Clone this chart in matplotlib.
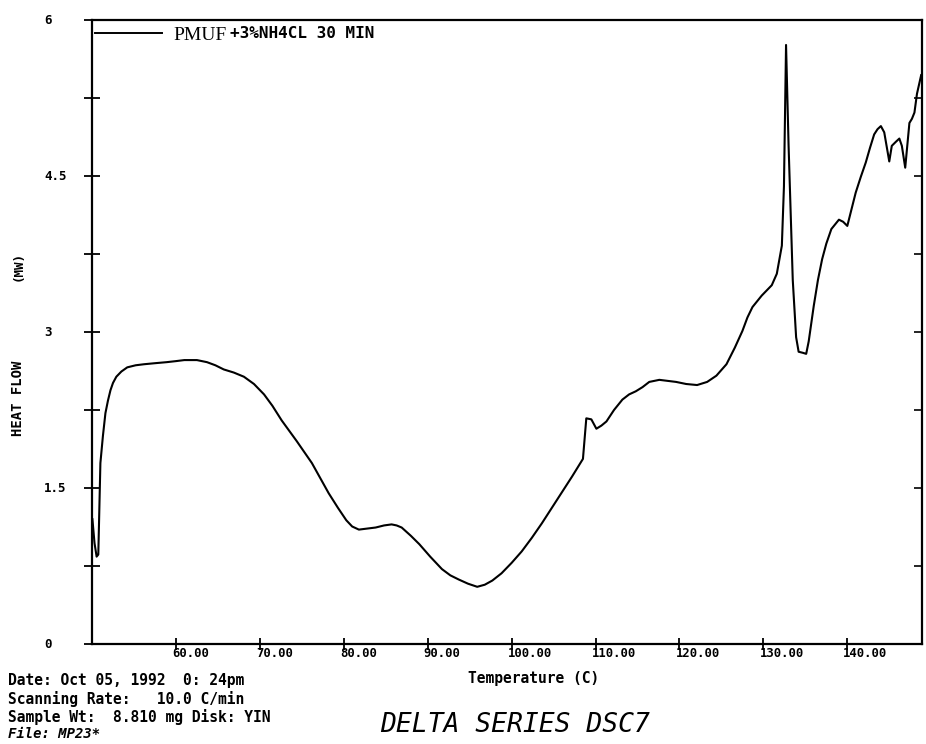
import matplotlib
matplotlib.use("Agg")
import matplotlib.pyplot as plt
from matplotlib.lines import Line2D
from matplotlib.transforms import offset_copy

# DSC trace (temperature in C, heat flow in mW)
temperature = [50.05, 50.3, 50.55, 50.75, 51.0, 51.3, 51.6, 51.9, 52.2, 52.5,
               52.9, 53.5, 54.2, 55.2, 56.2, 57.5, 58.9, 60.0, 61.0, 62.5,
               63.7, 64.7, 65.7, 66.9, 68.1, 69.3, 70.5, 71.5, 72.6, 74.4,
               76.2, 78.2, 79.3, 80.3, 81.0, 81.8, 82.8, 83.8, 84.8, 85.7,
               86.3, 86.9, 88.0, 89.0, 90.3, 91.7, 92.7, 93.7, 94.8, 95.9,
               96.8, 97.7, 98.8, 100.0, 101.2, 102.4, 103.6, 104.8, 106.0, 107.2,
               108.5, 108.9, 109.5, 110.1, 110.7, 111.3, 112.2, 113.2, 114.0, 114.8,
               115.6, 116.4, 117.6, 118.6, 119.6, 120.8, 122.1, 123.3, 124.4, 125.6,
               126.6, 127.5, 128.1, 128.7, 129.8, 131.0, 131.6, 132.2, 132.45, 132.7,
               133.0, 133.5, 133.9, 134.2, 134.7, 135.1, 135.4, 136.0, 136.5, 137.0,
               137.5, 138.1, 139.0, 139.5, 140.0, 140.5, 141.0, 141.6, 142.2, 142.7,
               143.2, 143.6, 144.0, 144.4, 144.7, 145.0, 145.3, 145.8, 146.2, 146.5,
               146.9, 147.4, 147.7, 148.0, 148.3, 148.8]
heat_flow = [1.2, 0.97, 0.84, 0.86, 1.74, 2.0, 2.22, 2.34, 2.44, 2.51,
             2.57, 2.62, 2.66, 2.68, 2.69, 2.70, 2.71, 2.72, 2.73, 2.73,
             2.71, 2.68, 2.64, 2.61, 2.57, 2.50, 2.40, 2.29, 2.15, 1.95,
             1.74, 1.45, 1.31, 1.19, 1.13, 1.10, 1.11, 1.12, 1.14, 1.15,
             1.14, 1.12, 1.04, 0.96, 0.84, 0.72, 0.66, 0.62, 0.58, 0.55,
             0.57, 0.61, 0.68, 0.78, 0.89, 1.02, 1.16, 1.31, 1.46, 1.61,
             1.78, 2.17, 2.16, 2.07, 2.10, 2.14, 2.25, 2.35, 2.40, 2.43,
             2.47, 2.52, 2.54, 2.53, 2.52, 2.50, 2.49, 2.52, 2.58, 2.69,
             2.85, 3.01, 3.14, 3.24, 3.35, 3.45, 3.56, 3.83, 4.4, 5.76,
             4.8, 3.5, 2.95, 2.81, 2.80, 2.79, 2.91, 3.25, 3.50, 3.70,
             3.85, 3.99, 4.08, 4.06, 4.02, 4.18, 4.34, 4.49, 4.63, 4.77,
             4.90, 4.95, 4.98, 4.92, 4.78, 4.64, 4.79, 4.83, 4.86, 4.79,
             4.58, 5.01, 5.05, 5.11, 5.29, 5.47]

x_ticks = [60, 70, 80, 90, 100, 110, 120, 130, 140]
x_tick_labels = ["60.00", "70.00", "80.00", "90.00", "100.00", "110.00",
                 "120.00", "130.00", "140.00"]
y_ticks = [0, 1.5, 3, 4.5, 6]
y_tick_labels = ["0", "1.5", "3", "4.5", "6"]
y_minor_ticks = [0.75, 2.25, 3.75, 5.25]

mono = "DejaVu Sans Mono"

fig = plt.figure(figsize=(9.26, 7.44), dpi=100)
fig.patch.set_facecolor("white")
ax = fig.add_axes([92/926, 100/744, 830/926, 624/744])

ax.plot(temperature, heat_flow, color="black", lw=1.5)
ax.set_xlim(50, 148.9)
ax.set_ylim(0, 6)
for s in ax.spines.values():
    s.set_linewidth(1.6)

# ticks: crossing ticks on the left and bottom, labels drawn by hand
ax.set_xticks(x_ticks)
ax.set_xticklabels([])
ax.tick_params(axis="x", direction="inout", length=9, width=1.3)
ax.set_yticks(y_ticks)
ax.set_yticks(y_minor_ticks, minor=True)
ax.set_yticklabels([])
ax.tick_params(axis="y", which="both", direction="inout", length=12, width=1.3)

# inward ticks on the right edge
twin = ax.twinx()
twin.set_ylim(0, 6)
twin.set_yticks(sorted(y_ticks[1:-1] + y_minor_ticks))
twin.set_yticklabels([])
twin.tick_params(axis="y", direction="in", length=6, width=1.2)
for s in twin.spines.values():
    s.set_visible(False)

xt = offset_copy(ax.get_xaxis_transform(), fig=fig, x=-4, y=-3, units="dots")
for t, lab in zip(x_ticks, x_tick_labels):
    ax.text(t, 0, lab, transform=xt, ha="left", va="top",
            family=mono, weight="bold", size=8.8)

yt = offset_copy(ax.get_yaxis_transform(), fig=fig, x=-48, units="dots")
for v, lab in zip(y_ticks, y_tick_labels):
    ax.text(0, v, lab, transform=yt, ha="left", va="center",
            family=mono, weight="bold", size=9)

def fx(px):
    return px / 926

def fy(py):
    return 1 - py / 744

# axis titles
fig.text(fx(18), fy(398), "HEAT FLOW", rotation=90, ha="center", va="center",
         family=mono, weight="bold", size=10)
fig.text(fx(18), fy(266), "(MW)", rotation=90, ha="center", va="center",
         family=mono, weight="bold", size=9)
fig.text(fx(534), fy(679), "Temperature (C)", ha="center", va="center",
         family=mono, weight="bold", size=10.5)

# legend entry
fig.add_artist(Line2D([fx(95), fx(162)], [fy(33), fy(33)], color="black",
                      lw=1.4, transform=fig.transFigure))
fig.text(fx(173), fy(35), "PMUF", ha="left", va="center",
         family="Liberation Serif", size=14)
fig.text(fx(230), fy(34), "+3%NH4CL 30 MIN", ha="left", va="center",
         family=mono, weight="bold", size=11.5)

# run info
info = ["Date: Oct 05, 1992  0: 24pm",
        "Scanning Rate:   10.0 C/min",
        "Sample Wt:  8.810 mg Disk: YIN"]
for i, line in enumerate(info):
    fig.text(fx(8), fy(681 + 18 * i), line, ha="left", va="center",
             family=mono, weight="bold", size=10.5)
fig.text(fx(8), fy(734), "File: MP23*", ha="left", va="center",
         family=mono, weight="bold", style="italic", size=10)

fig.text(fx(515), fy(725), "DELTA SERIES DSC7", ha="center", va="center",
         family=mono, style="italic", size=19)

fig.savefig("out.png", dpi=100)
